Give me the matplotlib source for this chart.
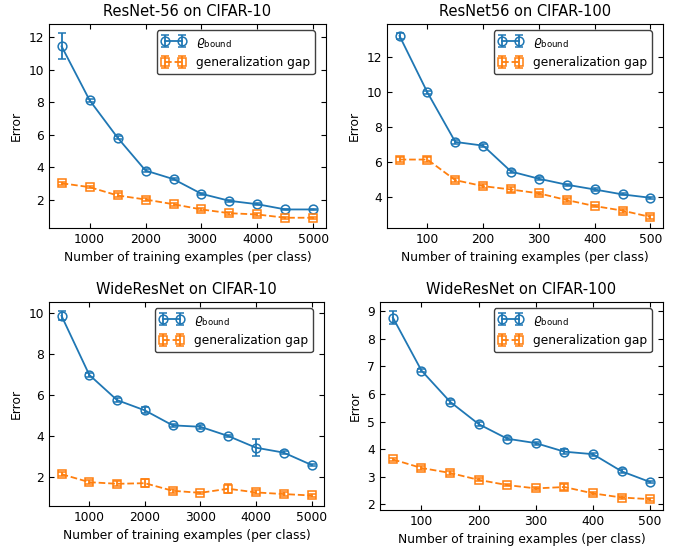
import numpy as np
import matplotlib
matplotlib.use("Agg")
import matplotlib.pyplot as plt
from matplotlib.ticker import MultipleLocator

plt.rcParams['xtick.direction'] = 'in'
plt.rcParams['ytick.direction'] = 'in'
plt.rcParams['xtick.top'] = True
plt.rcParams['ytick.right'] = True

x10 = [500, 1000, 1500, 2000, 2500, 3000, 3500, 4000, 4500, 5000]
x100 = [50, 100, 150, 200, 250, 300, 350, 400, 450, 500]

# ResNet-56 on CIFAR-10
r10_bound = [11.43, 8.12, 5.82, 3.80, 3.27, 2.37, 1.94, 1.73, 1.41, 1.41]
r10_bound_err = [0.80, 0.10, 0.08, 0.08, 0.06, 0.08, 0.06, 0.05, 0.05, 0.04]
r10_gap = [3.02, 2.78, 2.27, 2.02, 1.73, 1.41, 1.18, 1.10, 0.90, 0.90]
r10_gap_err = [0.10, 0.08, 0.12, 0.10, 0.10, 0.10, 0.10, 0.10, 0.06, 0.06]

# ResNet56 on CIFAR-100
r100_bound = [13.17, 9.96, 7.15, 6.94, 5.47, 5.06, 4.72, 4.45, 4.17, 3.98]
r100_bound_err = [0.15, 0.10, 0.12, 0.08, 0.10, 0.08, 0.06, 0.06, 0.06, 0.05]
r100_gap = [6.15, 6.15, 4.98, 4.64, 4.45, 4.23, 3.85, 3.51, 3.25, 2.89]
r100_gap_err = [0.12, 0.12, 0.10, 0.10, 0.12, 0.10, 0.10, 0.08, 0.12, 0.10]

# WideResNet on CIFAR-10
w10_bound = [9.87, 6.99, 5.76, 5.26, 4.53, 4.46, 4.01, 3.44, 3.20, 2.60]
w10_bound_err = [0.22, 0.10, 0.08, 0.15, 0.06, 0.10, 0.06, 0.42, 0.06, 0.06]
w10_gap = [2.15, 1.76, 1.68, 1.71, 1.34, 1.24, 1.44, 1.26, 1.18, 1.11]
w10_gap_err = [0.10, 0.10, 0.12, 0.20, 0.10, 0.06, 0.22, 0.10, 0.08, 0.06]

# WideResNet on CIFAR-100
w100_bound = [8.77, 6.85, 5.72, 4.91, 4.38, 4.22, 3.91, 3.82, 3.20, 2.81]
w100_bound_err = [0.22, 0.06, 0.08, 0.08, 0.05, 0.05, 0.08, 0.05, 0.08, 0.04]
w100_gap = [3.63, 3.32, 3.14, 2.89, 2.70, 2.58, 2.63, 2.40, 2.25, 2.19]
w100_gap_err = [0.06, 0.06, 0.08, 0.06, 0.05, 0.05, 0.12, 0.06, 0.05, 0.05]

panels = [
    ("ResNet-56 on CIFAR-10", x10, r10_bound, r10_bound_err, r10_gap, r10_gap_err),
    ("ResNet56 on CIFAR-100", x100, r100_bound, r100_bound_err, r100_gap, r100_gap_err),
    ("WideResNet on CIFAR-10", x10, w10_bound, w10_bound_err, w10_gap, w10_gap_err),
    ("WideResNet on CIFAR-100", x100, w100_bound, w100_bound_err, w100_gap, w100_gap_err),
]

# axes boxes in pixels: left, top, right, bottom
boxes = [(49, 24, 326, 228), (387, 24, 663, 228),
         (49, 302, 324, 506), (380, 302, 663, 510)]

W, H = 676, 546
fig = plt.figure(figsize=(W / 100, H / 100), dpi=100)

fs = 8.8
for i, ((title, x, b, be, g, ge), (l, t, r, btm)) in enumerate(zip(panels, boxes)):
    ax = fig.add_axes([l / W, 1 - btm / H, (r - l) / W, (btm - t) / H])
    ax.errorbar(x, b, yerr=be, color='C0', marker='o', mfc='none', ms=6.3,
                lw=1.3, mew=1.1, capsize=2.6, label=r'$\varrho_{\mathrm{bound}}$')
    ax.errorbar(x, g, yerr=ge, color='C1', marker='s', mfc='none', ms=6.3,
                lw=1.3, mew=1.1, ls='--', capsize=2.6, label='generalization gap')
    ax.set_title(title, fontsize=10.5)
    ax.set_xlabel('Number of training examples (per class)', fontsize=fs)
    ax.set_ylabel('Error', fontsize=fs)
    ax.tick_params(labelsize=fs)
    if i == 3:
        ax.yaxis.set_major_locator(MultipleLocator(1))
    leg = ax.legend(loc='upper right', bbox_to_anchor=(1 - 5 / (r - l), 1),
                    fontsize=fs, numpoints=2, fancybox=True, framealpha=1)
    leg.get_frame().set_edgecolor('0.25')

fig.savefig('out.png', dpi=100)
